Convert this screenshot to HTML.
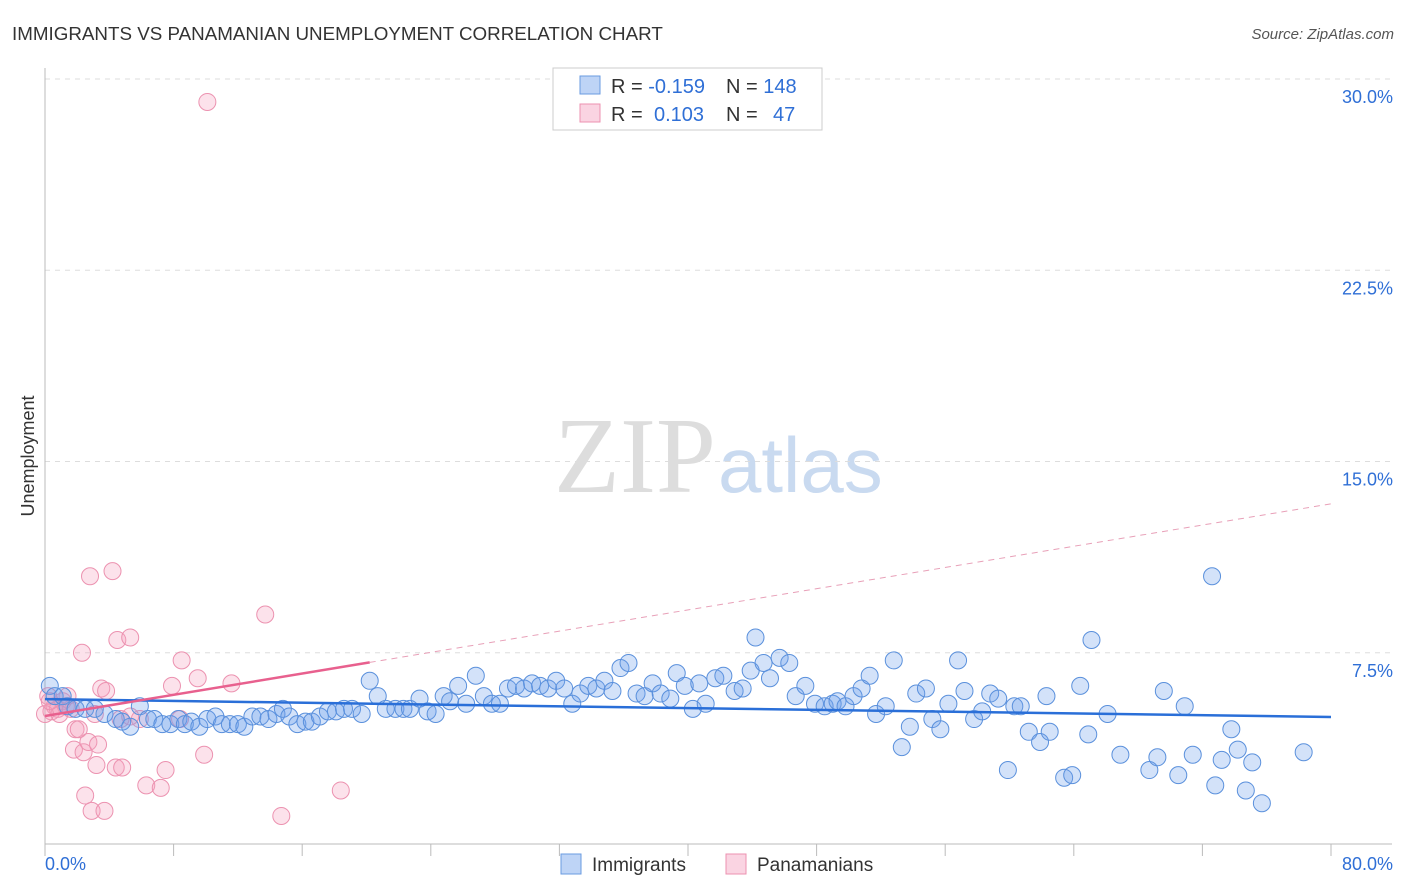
<!DOCTYPE html>
<html><head><meta charset="utf-8"><style>
body{margin:0;background:#fff;font-family:"Liberation Sans",sans-serif;}
svg{display:block}
</style></head><body>
<svg id="chart" width="1406" height="892" xmlns="http://www.w3.org/2000/svg">
<text x="12" y="40" font-size="18.8" fill="#333">IMMIGRANTS VS PANAMANIAN UNEMPLOYMENT CORRELATION CHART</text>
<text x="1394" y="39" font-size="15" fill="#555" font-style="italic" text-anchor="end">Source: ZipAtlas.com</text>
<text x="716" y="492" font-size="108" fill="#ddd" text-anchor="end" font-family="Liberation Serif,serif">ZIP</text>
<text x="718" y="492" font-size="78" fill="#c9daf0">atlas</text>
<text transform="translate(34,456) rotate(-90)" font-size="18" fill="#333" text-anchor="middle">Unemployment</text>
<g id="grid"></g><g id="axes"></g><g id="pts"></g><g id="lines"></g>
<g>
<rect x="553" y="68" width="269" height="62" fill="#fff" stroke="#ccc"/>
<rect x="580" y="76" width="20" height="18" fill="rgba(110,160,235,0.45)" stroke="#6a9be0"/>
<rect x="580" y="104" width="20" height="18" fill="rgba(245,160,190,0.45)" stroke="#ec92b0"/>
<text x="611" y="93" font-size="20" fill="#333">R = <tspan fill="#2f6fd6">-0.159</tspan><tspan x="726">N = </tspan><tspan fill="#2f6fd6">148</tspan></text>
<text x="611" y="121" font-size="20" fill="#333">R = <tspan fill="#2f6fd6" x="654">0.103</tspan><tspan x="726">N = </tspan><tspan fill="#2f6fd6" x="773">47</tspan></text>
</g>
<g>
<rect x="561" y="854" width="20" height="20" fill="rgba(110,160,235,0.45)" stroke="#6a9be0"/>
<text x="592" y="871" font-size="19" fill="#333">Immigrants</text>
<rect x="726" y="854" width="20" height="20" fill="rgba(245,160,190,0.45)" stroke="#ec92b0"/>
<text x="757" y="871" font-size="19" fill="#333">Panamanians</text>
</g>
</svg>
<script>
const yTicks=[7.5,15,22.5,30];
const yTickLabels=["7.5%","15.0%","22.5%","30.0%"];
const xTickValues=[0,8,16,24,32,40,48,56,64,72,80];
const xEndLabels=["0.0%","80.0%"];
const blueX=[0.3,0.6,1.1,1.4,1.9,2.5,3.1,3.7,4.4,4.8,5.3,5.9,6.4,6.8,7.3,7.8,8.3,8.7,9.1,9.6,10.1,10.6,11.0,11.5,12.0,12.4,12.9,13.4,13.9,14.4,14.8,15.2,15.7,16.2,16.6,17.1,17.6,18.1,18.6,19.1,19.7,20.2,20.7,21.2,21.8,22.3,22.7,23.3,23.8,24.3,24.8,25.2,25.7,26.2,26.8,27.3,27.8,28.3,28.8,29.3,29.8,30.3,30.8,31.3,31.8,32.3,32.8,33.3,33.8,34.3,34.8,35.3,35.8,36.3,36.8,37.3,37.8,38.3,38.9,39.3,39.8,40.3,40.7,41.1,41.7,42.2,42.9,43.4,43.9,44.2,44.7,45.1,45.7,46.3,46.7,47.3,47.9,48.5,49.0,49.3,49.8,50.3,50.8,51.3,51.7,52.3,52.8,53.3,53.8,54.2,54.8,55.2,55.7,56.2,56.8,57.2,57.8,58.3,58.8,59.3,59.9,60.3,60.7,61.2,61.9,62.3,62.5,63.4,63.9,64.4,64.9,65.1,66.1,66.9,68.7,69.2,69.6,70.5,70.9,71.4,72.6,72.8,73.2,73.8,74.2,74.7,75.1,75.7,78.3];
const blueY=[6.2,5.8,5.8,5.4,5.3,5.3,5.3,5.1,4.9,4.8,4.6,5.4,4.9,4.9,4.7,4.7,4.9,4.7,4.8,4.6,4.9,5.0,4.7,4.7,4.7,4.6,5.0,5.0,4.9,5.1,5.3,5.0,4.7,4.8,4.8,5.0,5.2,5.2,5.3,5.3,5.1,6.4,5.8,5.3,5.3,5.3,5.3,5.7,5.2,5.1,5.8,5.6,6.2,5.5,6.6,5.8,5.5,5.5,6.1,6.2,6.1,6.3,6.2,6.1,6.4,6.1,5.5,5.9,6.2,6.1,6.4,6.0,6.9,7.1,5.9,5.8,6.3,5.9,5.7,6.7,6.2,5.3,6.3,5.5,6.5,6.6,6.0,6.1,6.8,8.1,7.1,6.5,7.3,7.1,5.8,6.2,5.5,5.4,5.5,5.6,5.4,5.8,6.1,6.6,5.1,5.4,7.2,3.8,4.6,5.9,6.1,4.9,4.5,5.5,7.2,6.0,4.9,5.2,5.9,5.7,2.9,5.4,5.4,4.4,4.0,5.8,4.4,2.6,2.7,6.2,4.3,8.0,5.1,3.5,2.9,3.4,6.0,2.7,5.4,3.5,10.5,2.3,3.3,4.5,3.7,2.1,3.2,1.6,3.6];
const pinkX=[0.2,0.4,0.6,0.8,1.1,1.3,1.6,1.9,2.1,1.8,2.4,2.3,2.5,2.8,2.7,2.9,3.2,3.3,3.5,3.7,3.8,4.2,4.4,4.5,4.8,5.3,6.3,7.2,7.5,7.9,8.5,9.5,9.9,10.1,11.6,13.7,14.7,18.4,4.7,8.4,5.9,0.9,0.0,0.3,1.4,3.1,5.3];
const pinkY=[5.8,5.2,5.4,5.3,5.6,5.4,5.3,4.5,4.5,3.7,3.6,7.5,1.9,10.5,4.0,1.3,3.1,3.9,6.1,1.3,6.0,10.7,3.0,8.0,3.0,8.1,2.3,2.2,2.9,6.2,7.2,6.5,3.5,29.1,6.3,9.0,1.1,2.1,4.9,4.9,4.9,5.1,5.1,5.6,5.8,5.1,5.0];
const blueTrend=[5.68,-0.00875];
const pinkTrend=[5.02,0.104];
const pinkSolidEnd=20.2;
const NS="http://www.w3.org/2000/svg";
const X0=45,X1=1331,Y0=844,Y30=79;
const sx=v=>X0+(v/80)*(X1-X0);
const sy=v=>Y0-(v/30)*(Y0-Y30);
function mk(tag,attrs,parent){const e=document.createElementNS(NS,tag);for(const k in attrs)e.setAttribute(k,attrs[k]);parent.appendChild(e);return e;}
const grid=document.getElementById('grid'),axes=document.getElementById('axes'),pts=document.getElementById('pts'),lines=document.getElementById('lines');
yTicks.forEach((t,i)=>{
 const l=mk('line',{x1:X0,x2:1392,y1:sy(t),y2:sy(t),stroke:'#ddd','stroke-dasharray':'5,5'},grid);
 
 
 const tx=mk('text',{x:1393,y:sy(t)+24,'font-size':18,fill:'#2f6fd6','text-anchor':'end'},grid);
 tx.textContent=yTickLabels[i];
 
 
});
const ya=mk('line',{x1:X0,x2:X0,y1:68,y2:Y0,stroke:'#bbb'},axes);


const xa=mk('line',{x1:X0,x2:1392,y1:Y0,y2:Y0,stroke:'#bbb'},axes);


xTickValues.forEach(v=>{
 const t=mk('line',{x1:sx(v),x2:sx(v),y1:Y0,y2:Y0+12,stroke:'#bbb'},axes);
 
 
});
const xl0=mk('text',{x:45,y:870,'font-size':18,fill:'#2f6fd6'},axes);
xl0.textContent=xEndLabels[0];


const xl1=mk('text',{x:1393,y:870,'font-size':18,fill:'#2f6fd6','text-anchor':'end'},axes);
xl1.textContent=xEndLabels[1];


pinkX.forEach((v,i)=>{
 const c=mk('circle',{cx:sx(v),cy:sy(pinkY[i]),r:8.5,fill:'rgba(245,160,190,0.3)',stroke:'#ec92b0','stroke-width':1},pts);
 
 
});
blueX.forEach((v,i)=>{
 const c=mk('circle',{cx:sx(v),cy:sy(blueY[i]),r:8.5,fill:'rgba(110,160,235,0.3)',stroke:'#5a90dc','stroke-width':1},pts);
 
 
});
const bl=mk('line',{x1:sx(0),y1:sy(blueTrend[0]),x2:sx(80),y2:sy(blueTrend[0]+blueTrend[1]*80),stroke:'#2a6fd8','stroke-width':2.5},lines);


const pl=mk('line',{x1:sx(0),y1:sy(pinkTrend[0]),x2:sx(pinkSolidEnd),y2:sy(pinkTrend[0]+pinkTrend[1]*pinkSolidEnd),stroke:'#e8608e','stroke-width':2.5},lines);


const pd=mk('line',{x1:sx(pinkSolidEnd),y1:sy(pinkTrend[0]+pinkTrend[1]*pinkSolidEnd),x2:sx(80),y2:sy(pinkTrend[0]+pinkTrend[1]*80),stroke:'#e8a0b8','stroke-width':1,'stroke-dasharray':'6,5'},lines);


</script>
</body></html>
